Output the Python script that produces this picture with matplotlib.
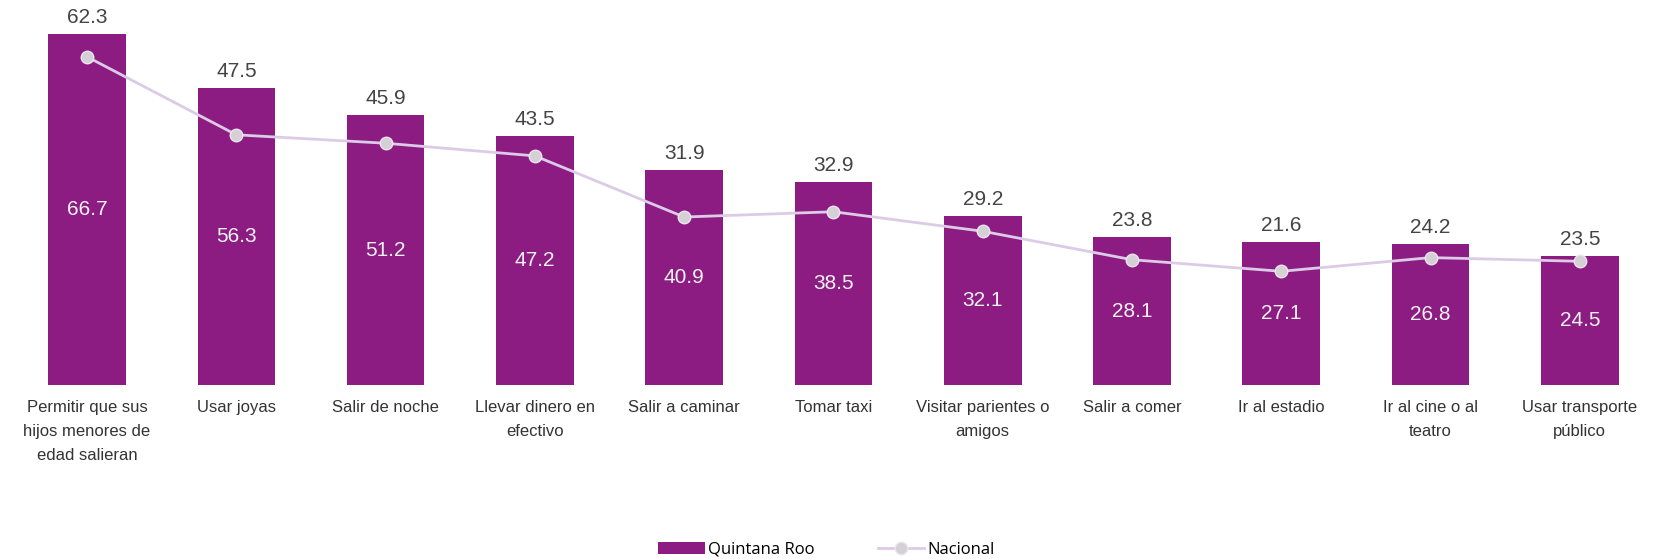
import numpy as np
import matplotlib.pyplot as plt

plt.rcParams['font.family'] = ['Liberation Sans', 'DejaVu Sans']

# Data
categories = ["Permitir que sus\nhijos menores de\nedad salieran", "Usar joyas", "Salir de noche",
              "Llevar dinero en\nefectivo", "Salir a caminar", "Tomar taxi",
              "Visitar parientes o\namigos", "Salir a comer", "Ir al estadio",
              "Ir al cine o al\nteatro", "Usar transporte\npúblico"]
quintana_roo = [66.7, 56.3, 51.2, 47.2, 40.9, 38.5, 32.1, 28.1, 27.1, 26.8, 24.5]
nacional = [62.3, 47.5, 45.9, 43.5, 31.9, 32.9, 29.2, 23.8, 21.6, 24.2, 23.5]

bar_color = "#8c1c82"
x = np.arange(len(categories))

fig = plt.figure(figsize=(16.53, 5.59), dpi=100)
ax = fig.add_axes([0, 0.311, 1, 0.66])

bars = ax.bar(x, quintana_roo, width=0.52, color=bar_color, label="Quintana Roo", zorder=1)
line, = ax.plot(x, nacional, color="#dccbe6", linewidth=2.0, marker="o", markersize=9,
                markerfacecolor="#d4d0d6", markeredgecolor="#ece4f0", markeredgewidth=1.0,
                label="Nacional", zorder=3)

# value labels: Quintana Roo inside the bar, Nacional above it
for xi, qv, nv in zip(x, quintana_roo, nacional):
    ax.text(xi, qv / 2, f"{qv:.1f}", ha="center", va="center", fontsize=15,
            color="#f2f2f2", zorder=4)
    ax.annotate(f"{nv:.1f}", (xi, qv), xytext=(0, 5), textcoords="offset points",
                ha="center", va="bottom", fontsize=15, color="#444444",
                annotation_clip=False)

ax.set_xlim(-0.583, 10.49)
ax.set_ylim(0, 70)
ax.set_xticks(x)
ax.set_xticklabels(categories, fontsize=12, color="#333333")
for lbl in ax.get_xticklabels():
    lbl.set_linespacing(1.75)
ax.tick_params(axis="x", length=0, pad=11)
ax.set_yticks([])
for s in ax.spines.values():
    s.set_visible(False)

fig.legend([bars, line], ["Quintana Roo", "Nacional"], loc="lower center",
           bbox_to_anchor=(0.5, -0.025), ncol=2, frameon=False,
           handlelength=2.8, handletextpad=0.2, columnspacing=3.8,
           prop={"family": "Open Sans", "size": 12})

fig.savefig("out.png", dpi=100)
